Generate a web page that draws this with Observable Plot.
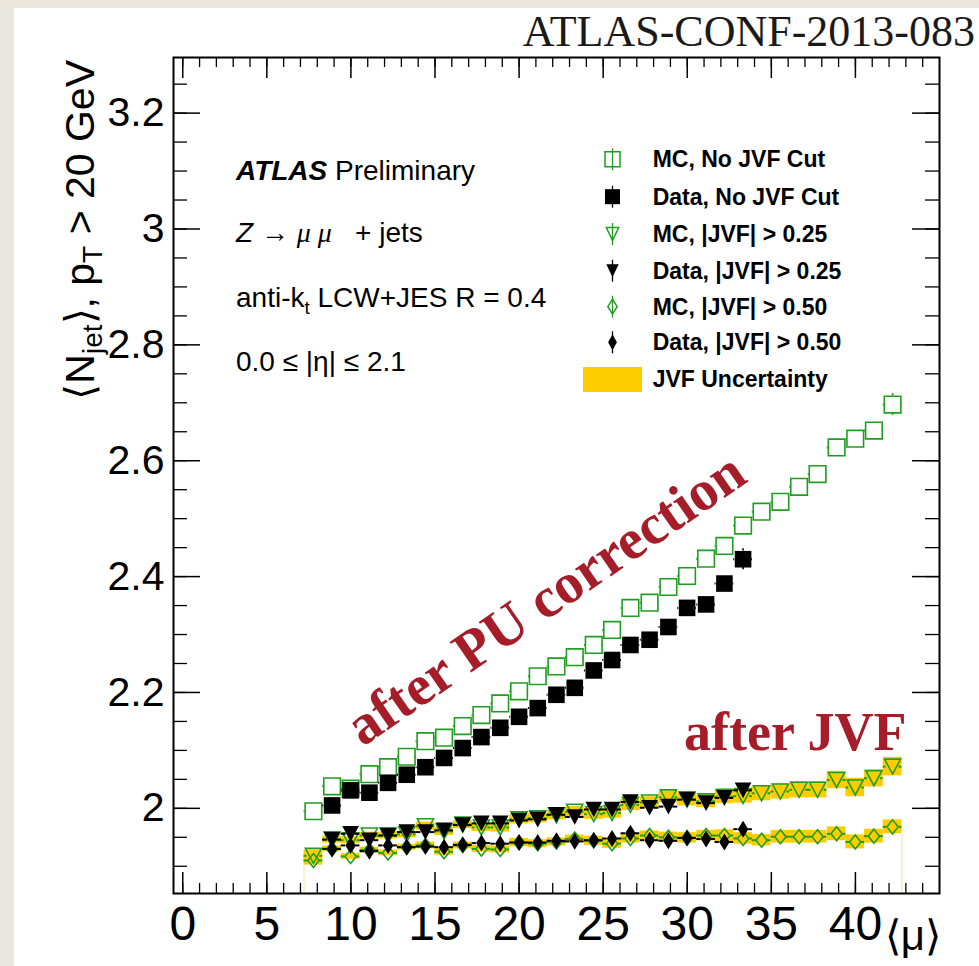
<!DOCTYPE html>
<html><head><meta charset="utf-8">
<script src="https://cdn.jsdelivr.net/npm/d3@7"></script>
<script src="https://cdn.jsdelivr.net/npm/@observablehq/plot@0.6"></script>
<style>
html,body{margin:0;padding:0;background:#ebe7df;}
#wrap{position:relative;width:979px;height:966px;overflow:hidden;}
#paper{position:absolute;left:14px;top:8px;right:0;bottom:0;background:#fff;}
#chart{position:absolute;left:0;top:0;}
svg text{white-space:pre;}
</style></head><body>
<div id="wrap"><div id="paper"></div><div id="chart"></div></div>
<script>
// ---- data ----
const mu = [7.77, 8.88, 9.98, 11.10, 12.21, 13.32, 14.43, 15.54, 16.65, 17.76, 18.88, 20.00, 21.11, 22.22, 23.31, 24.44,
            25.53, 26.62, 27.76, 28.88, 29.99, 31.12, 32.21, 33.32, 34.42, 35.54, 36.65, 37.75, 38.88, 39.99, 41.10, 42.21];
const mcNoCut = [1.995, 2.038, 2.034, 2.059, 2.071, 2.089, 2.116, 2.122, 2.142, 2.161, 2.181, 2.202, 2.228, 2.245, 2.261, 2.282,
                 2.308, 2.346, 2.355, 2.382, 2.401, 2.431, 2.453, 2.488, 2.512, 2.529, 2.555, 2.577, 2.623, 2.638, 2.652, 2.697];
const mcNoCutErr = [0.004, 0.004, 0.004, 0.004, 0.004, 0.004, 0.004, 0.004, 0.004, 0.004, 0.005, 0.005, 0.005, 0.005, 0.005, 0.006,
                    0.006, 0.006, 0.006, 0.007, 0.007, 0.007, 0.008, 0.008, 0.009, 0.009, 0.010, 0.010, 0.013, 0.013, 0.015, 0.019];
// data series start at the second mu bin
const dataNoCut = [2.005, 2.031, 2.027, 2.044, 2.058, 2.071, 2.087, 2.104, 2.123, 2.139, 2.158, 2.173, 2.196, 2.208, 2.238, 2.256,
                   2.282, 2.291, 2.313, 2.346, 2.352, 2.388, 2.430];
const dataNoCutErr = [0.004, 0.004, 0.004, 0.004, 0.004, 0.004, 0.005, 0.005, 0.005, 0.005, 0.006, 0.006, 0.006, 0.007, 0.007, 0.008,
                      0.008, 0.009, 0.010, 0.011, 0.012, 0.014, 0.018];
const mcJvf25 = [1.918, 1.946, 1.945, 1.953, 1.953, 1.955, 1.969, 1.960, 1.972, 1.967, 1.967, 1.981, 1.983, 1.988, 1.994, 1.990,
                 1.992, 2.006, 2.010, 2.019, 2.015, 2.012, 2.020, 2.021, 2.026, 2.029, 2.032, 2.032, 2.049, 2.036, 2.052, 2.072];
const dataJvf25 = [1.946, 1.956, 1.945, 1.953, 1.959, 1.959, 1.962, 1.971, 1.974, 1.974, 1.979, 1.981, 1.989, 1.985, 1.998, 1.998,
                   2.011, 2.001, 2.003, 2.015, 2.009, 2.018, 2.031];
const mcJvf50 = [1.910, 1.930, 1.917, 1.928, 1.923, 1.933, 1.936, 1.925, 1.936, 1.930, 1.929, 1.941, 1.939, 1.942, 1.947, 1.944,
                 1.939, 1.948, 1.953, 1.950, 1.949, 1.953, 1.953, 1.948, 1.945, 1.951, 1.951, 1.951, 1.956, 1.942, 1.952, 1.968];
const dataJvf50 = [1.930, 1.936, 1.926, 1.936, 1.933, 1.934, 1.933, 1.937, 1.940, 1.939, 1.941, 1.941, 1.944, 1.943, 1.945, 1.948,
                   1.957, 1.945, 1.944, 1.949, 1.947, 1.942, 1.964];
const unc25 = [0.010, 0.006, 0.006, 0.006, 0.006, 0.006, 0.007, 0.007, 0.007, 0.007, 0.008, 0.008, 0.008, 0.008, 0.009, 0.009,
               0.009, 0.010, 0.010, 0.010, 0.011, 0.011, 0.012, 0.012, 0.013, 0.013, 0.014, 0.014, 0.015, 0.016, 0.015, 0.016];
const unc50 = [0.008, 0.005, 0.005, 0.005, 0.005, 0.005, 0.006, 0.006, 0.006, 0.006, 0.006, 0.007, 0.007, 0.007, 0.007, 0.008,
               0.008, 0.008, 0.008, 0.009, 0.009, 0.009, 0.010, 0.010, 0.010, 0.011, 0.011, 0.011, 0.012, 0.012, 0.012, 0.012];
const xTickVals = [0, 5, 10, 15, 20, 25, 30, 35, 40];
const yTickVals = [2, 2.2, 2.4, 2.6, 2.8, 3, 3.2];
const legendLabels = ["MC, No JVF Cut", "Data, No JVF Cut", "MC, |JVF| > 0.25", "Data, |JVF| > 0.25",
                      "MC, |JVF| > 0.50", "Data, |JVF| > 0.50", "JVF Uncertainty"];

// ---- layout / style ----
const WIDTH = 979, HEIGHT = 966, mL = 173, mR = 40, mT = 57, mB = 73;
const xDom = [-0.55, 45.0], yDom = [1.853, 3.296];
const FW = WIDTH - mL - mR, FH = HEIGHT - mT - mB;
const pxPerX = FW / (xDom[1] - xDom[0]), pxPerY = FH / (yDom[1] - yDom[0]);
const GREEN = "#1f9e1f", YEL = "#ffcc00", SANS = "'Liberation Sans', Arial, Helvetica, sans-serif";
const SERIF = "'Liberation Serif', 'DejaVu Serif', serif";
const HB = (mu[mu.length - 1] - mu[0]) / (mu.length - 1) / 2;

function mkSquare() { return {draw(c, s) { const r = Math.sqrt(s / Math.PI); c.moveTo(-r, -r); c.lineTo(r, -r); c.lineTo(r, r); c.lineTo(-r, r); c.closePath(); }}; }
function mkTri(aw) { return {draw(c, s) { const r = Math.sqrt(s / Math.PI), w = r * aw; c.moveTo(-w, -r); c.lineTo(w, -r); c.lineTo(0, r); c.closePath(); }}; }
function mkDia(aw) { return {draw(c, s) { const r = Math.sqrt(s / Math.PI), w = r * aw; c.moveTo(0, -r); c.lineTo(w, 0); c.lineTo(0, r); c.lineTo(-w, 0); c.closePath(); }}; }
const SQ = mkSquare(), TRI = mkTri(1.07), DIA_D = mkDia(0.62), DIA_M = mkDia(0.8);

const mcRows = mu.map((m, i) => ({mu: m, noCut: mcNoCut[i], noCutErr: mcNoCutErr[i], j25: mcJvf25[i], j50: mcJvf50[i], u25: unc25[i], u50: unc50[i]}));
const dataRows = dataNoCut.map((v, i) => ({mu: mu[i + 1], noCut: v, noCutErr: dataNoCutErr[i], j25: dataJvf25[i], j50: dataJvf50[i]}));

function hErr(rows, key, gapPx) {
  const g = gapPx / pxPerX, out = [];
  rows.forEach(d => { out.push({y: d[key], x1: d.mu - HB, x2: d.mu - g}); out.push({y: d[key], x1: d.mu + g, x2: d.mu + HB}); });
  return out;
}
function vErr(rows, key, ekey, gapPx) {
  const g = gapPx / pxPerY, out = [];
  rows.forEach(d => { if (d[ekey] > g) { out.push({x: d.mu, y1: d[key] + g, y2: d[key] + d[ekey]}); out.push({x: d.mu, y1: d[key] - g, y2: d[key] - d[ekey]}); } });
  return out;
}

const xMinor = d3.range(0, 45, 1), xMajor = xTickVals;
const yMinor = d3.range(1.9, 3.27, 0.05), yMajor = yTickVals;
const last = mcRows[mcRows.length - 1], first = mcRows[0];
const edges = [
  {x: first.mu - HB, y2: Math.min(first.j50 - first.u50, first.j25 - first.u25)},
  {x: last.mu + HB, y2: last.j50 - last.u50}
];

const plot = Plot.plot({
  width: WIDTH, height: HEIGHT, marginLeft: mL, marginRight: mR, marginTop: mT, marginBottom: mB,
  x: {domain: xDom, axis: null}, y: {domain: yDom, axis: null},
  style: {background: "transparent", overflow: "visible"},
  marks: [
    // JVF uncertainty bands
    Plot.rect(mcRows, {x1: d => d.mu - HB, x2: d => d.mu + HB, y1: d => d.j25 - d.u25, y2: d => d.j25 + d.u25, fill: YEL}),
    Plot.rect(mcRows, {x1: d => d.mu - HB, x2: d => d.mu + HB, y1: d => d.j50 - d.u50, y2: d => d.j50 + d.u50, fill: YEL}),
    Plot.ruleX(edges, {x: "x", y1: () => yDom[0], y2: "y2", stroke: "#f6e2a6", strokeWidth: 1}),
    // x error dashes
    Plot.ruleY(hErr(mcRows, "j25", 6.5), {y: "y", x1: "x1", x2: "x2", stroke: GREEN, strokeWidth: 2}),
    Plot.ruleY(hErr(mcRows, "j50", 5.5), {y: "y", x1: "x1", x2: "x2", stroke: GREEN, strokeWidth: 2}),
    Plot.ruleY(hErr(mcRows, "noCut", 8.3), {y: "y", x1: "x1", x2: "x2", stroke: GREEN, strokeWidth: 2}),
    Plot.ruleX(vErr(mcRows, "noCut", "noCutErr", 8.3), {x: "x", y1: "y1", y2: "y2", stroke: GREEN, strokeWidth: 1.6}),
    // MC markers
    Plot.dot(mcRows, {x: "mu", y: "j25", symbol: TRI, r: 7.5, fill: "none", stroke: GREEN, strokeWidth: 1.6}),
    Plot.dot(mcRows, {x: "mu", y: "j50", symbol: DIA_M, r: 7, fill: "none", stroke: GREEN, strokeWidth: 1.6}),
    Plot.dot(mcRows, {x: "mu", y: "noCut", symbol: SQ, r: 8.3, fill: "none", stroke: GREEN, strokeWidth: 1.6}),
    // data error dashes
    Plot.ruleY(hErr(dataRows, "j25", 4.5), {y: "y", x1: "x1", x2: "x2", stroke: "black", strokeWidth: 2}),
    Plot.ruleY(hErr(dataRows, "j50", 5), {y: "y", x1: "x1", x2: "x2", stroke: "black", strokeWidth: 2}),
    Plot.ruleY(hErr(dataRows, "noCut", 8.3), {y: "y", x1: "x1", x2: "x2", stroke: "black", strokeWidth: 2}),
    Plot.ruleX(vErr(dataRows, "noCut", "noCutErr", 8.3), {x: "x", y1: "y1", y2: "y2", stroke: "black", strokeWidth: 1.6}),
    // data markers
    Plot.dot(dataRows, {x: "mu", y: "j25", symbol: TRI, r: 7.8, fill: "black", stroke: "none"}),
    Plot.dot(dataRows, {x: "mu", y: "j50", symbol: DIA_D, r: 8.5, fill: "black", stroke: "none"}),
    Plot.dot(dataRows, {x: "mu", y: "noCut", symbol: SQ, r: 8.3, fill: "black", stroke: "none"}),
    // ticks (inward, all four sides)
    Plot.ruleX(xMinor, {x: d => d, insetTop: FH - 10, stroke: "black", strokeWidth: 1.3}),
    Plot.ruleX(xMinor, {x: d => d, insetBottom: FH - 10, stroke: "black", strokeWidth: 1.3}),
    Plot.ruleX(xMajor, {x: d => d, insetTop: FH - 21, stroke: "black", strokeWidth: 1.5}),
    Plot.ruleX(xMajor, {x: d => d, insetBottom: FH - 21, stroke: "black", strokeWidth: 1.5}),
    Plot.ruleY(yMinor, {y: d => d, insetRight: FW - 14, stroke: "black", strokeWidth: 1.3}),
    Plot.ruleY(yMinor, {y: d => d, insetLeft: FW - 14, stroke: "black", strokeWidth: 1.3}),
    Plot.ruleY(yMajor, {y: d => d, insetRight: FW - 27, stroke: "black", strokeWidth: 1.5}),
    Plot.ruleY(yMajor, {y: d => d, insetLeft: FW - 27, stroke: "black", strokeWidth: 1.5}),
    Plot.frame({stroke: "black", strokeWidth: 2}),
    // tick labels
    Plot.text(yTickVals, {x: () => xDom[0], y: d => d, text: d => String(d), dx: -9, textAnchor: "end", fontSize: 41, fontFamily: SANS, fill: "black"}),
    Plot.text(xTickVals, {x: d => d, y: () => yDom[0], text: d => String(d), dy: 12, lineAnchor: "top", fontSize: 48, fontFamily: SANS, fill: "black", ariaLabel: "xticklabels"})
  ]
});
document.getElementById("chart").appendChild(plot);

// ---- annotations ----
const svg = d3.select(plot);
// condense x tick labels horizontally
svg.selectAll('g[aria-label="xticklabels"] text').attr("transform", function () { return (this.getAttribute("transform") || "") + " scale(0.78,1)"; });

function rich(x, y, parts, opts = {}) {
  const t = svg.append("text").attr("x", x).attr("y", y)
    .attr("font-family", opts.family || SANS).attr("font-size", opts.size || 26)
    .attr("fill", opts.fill || "black").attr("text-anchor", opts.anchor || "start");
  if (opts.weight) t.attr("font-weight", opts.weight);
  if (opts.transform) t.attr("transform", opts.transform).attr("x", 0).attr("y", 0);
  let shift = 0;
  parts.forEach(p => {
    const s = t.append("tspan").text(p.t);
    const target = p.sub || 0;
    if (target !== shift) { s.attr("dy", target - shift); shift = target; }
    if (p.style) s.attr("font-style", p.style);
    if (p.weight) s.attr("font-weight", p.weight);
    if (p.size) s.attr("font-size", p.size);
    if (p.family) s.attr("font-family", p.family);
  });
  return t;
}

// header
rich(975, 46, [{t: "ATLAS-CONF-2013-083"}], {family: SERIF, size: 44, anchor: "end", fill: "#1a1a1a"});
// y-axis title
rich(0, 0, [{t: "\u27E8N"}, {t: "jet", sub: 8, size: 28}, {t: "\u27E9, p"}, {t: "T", sub: 8, size: 28}, {t: " > 20 GeV"}],
  {size: 41, anchor: "end", transform: "translate(94,60) rotate(-90)"});
// x-axis title
rich(941, 950, [{t: "\u27E8\u03BC\u27E9"}], {size: 42, anchor: "end"});
// info block
rich(236, 180, [{t: "ATLAS", style: "italic", weight: "bold"}, {t: " Preliminary"}], {size: 28});
rich(236, 242, [{t: "Z", style: "italic"}, {t: " \u2192 "}, {t: "\u03BC \u03BC", style: "italic", family: "'Liberation Serif', serif"}, {t: "   + jets"}], {size: 28});
rich(236, 307, [{t: "anti-k"}, {t: "t", sub: 7, size: 19}, {t: " LCW+JES R = 0.4"}], {size: 28});
rich(236, 371, [{t: "0.0 \u2264 |\u03B7| \u2264 2.1"}], {size: 28});
// red labels
rich(0, 0, [{t: "after PU correction"}], {family: SERIF, size: 57, weight: "bold", fill: "#a51d28", anchor: "middle", transform: "translate(556,614) rotate(-34.6)"});
rich(684, 750, [{t: "after JVF"}], {family: SERIF, size: 54, weight: "bold", fill: "#a51d28"});

// legend
const legY = [159.3, 196.7, 234, 270.7, 306.7, 342.3, 379.3], legX = 612.5, legTX = 652.7;
const legSyms = [
  {sym: SQ, r: 7.5, fill: "none", stroke: GREEN, bar: GREEN},
  {sym: SQ, r: 7.5, fill: "black", stroke: "none", bar: "black"},
  {sym: mkTri(0.95), r: 6.5, fill: "none", stroke: GREEN, bar: GREEN},
  {sym: mkTri(0.95), r: 6.5, fill: "black", stroke: "none", bar: "black"},
  {sym: mkDia(0.62), r: 7.5, fill: "none", stroke: GREEN, bar: GREEN},
  {sym: mkDia(0.55), r: 8, fill: "black", stroke: "none", bar: "black"}
];
legSyms.forEach((s, i) => {
  svg.append("line").attr("x1", legX).attr("x2", legX).attr("y1", legY[i] - 11).attr("y2", legY[i] + 11).attr("stroke", s.bar).attr("stroke-width", 1.3);
  svg.append("path").attr("d", d3.symbol(s.sym, Math.PI * s.r * s.r)()).attr("transform", `translate(${legX},${legY[i]})`)
    .attr("fill", s.fill).attr("stroke", s.stroke).attr("stroke-width", 1.5);
});
svg.append("rect").attr("x", 583).attr("y", 367).attr("width", 59).attr("height", 25).attr("fill", YEL);
legendLabels.forEach((l, i) => rich(legTX, legY[i] + 8, [{t: l}], {size: 23, weight: "bold"}));
</script>
</body></html>
